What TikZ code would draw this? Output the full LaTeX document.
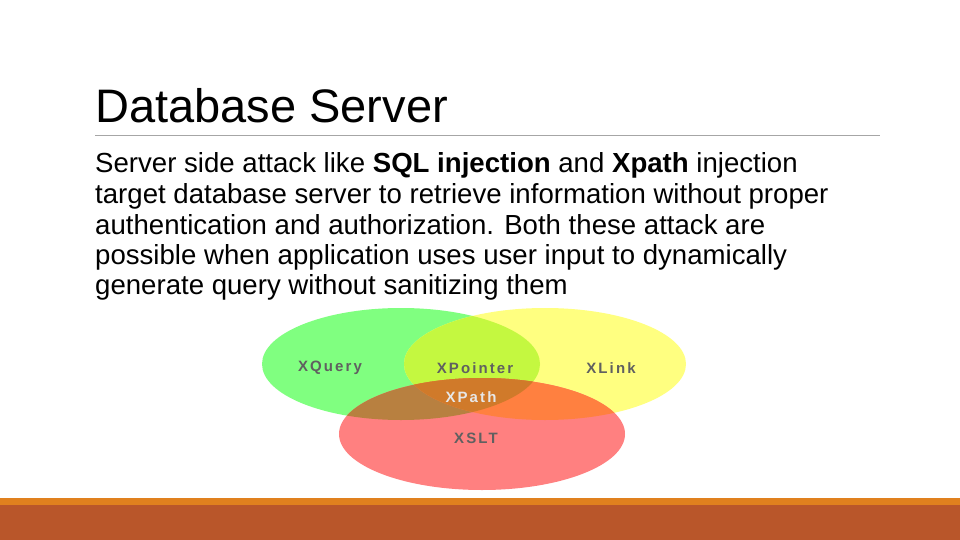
\documentclass[tikz,border=0pt]{standalone}
\usepackage{fontspec}
\setmainfont{Liberation Sans}
\newfontfamily\venn[LetterSpace=14]{Liberation Sans Bold}
\definecolor{cg}{HTML}{80FF80}
\definecolor{cy}{HTML}{FFFF80}
\definecolor{cr}{HTML}{FF8080}
\definecolor{cgy}{HTML}{C4F840}
\definecolor{cgr}{HTML}{B88040}
\definecolor{cyr}{HTML}{FF8040}
\definecolor{call}{HTML}{D07A2A}
\definecolor{lbl}{HTML}{606060}
\definecolor{bar1}{HTML}{E0801E}
\definecolor{bar2}{HTML}{B9562A}
\begin{document}
\begin{tikzpicture}[x=1pt,y=-1pt,
  lab/.style={text=lbl,inner sep=0,font=\fontsize{15}{15}\selectfont\venn},
  body/.style={anchor=base west,inner sep=0,font=\fontsize{27.6}{30}\selectfont}]
\useasboundingbox (0,0) rectangle (960,540);
\fill[white] (0,0) rectangle (960,540);
\def\G{(401,364) ellipse [x radius=139,y radius=56]}
\def\Y{(545,364) ellipse [x radius=141,y radius=56]}
\def\R{(482,434) ellipse [x radius=143,y radius=56]}
\fill[cg] \G; \fill[cy] \Y; \fill[cr] \R;
\begin{scope}\clip \G; \fill[cgy] \Y; \fill[cgr] \R; \end{scope}
\begin{scope}\clip \Y; \fill[cyr] \R; \end{scope}
\begin{scope}\clip \G; \clip \Y; \fill[call] \R; \end{scope}
\node[lab] (xq) at (330,368) {XQuery};
\node[lab] (xp) at (475,368) {XPointer};
\node[lab] (xl) at (611,368) {XLink};
\node[lab,text=white!85!lbl] (xpa) at (471,397) {XPath};
\node[lab] (xs) at (476,438) {XSLT};
\node[body,font=\fontsize{47}{47}\selectfont] (t) at (95,123) {Database Server};
\draw[gray!70,line width=1] (95,136) -- (880,136);
\node[body] (l1) at (95,172) {Server side attack like \textbf{SQL injection} and \textbf{Xpath} injection};
\node[body] (l2) at (95,203) {target database server to retrieve information without proper};
\node[body] (l3) at (95,234) {authentication and authorization. Both these attack are};
\node[body] (l4) at (95,264) {possible when application uses user input to dynamically};
\node[body] (l5) at (95,294) {generate query without sanitizing them};
\fill[bar1] (0,498) rectangle (960,505);
\fill[bar2] (0,505) rectangle (960,540);
\end{tikzpicture}
\end{document}
